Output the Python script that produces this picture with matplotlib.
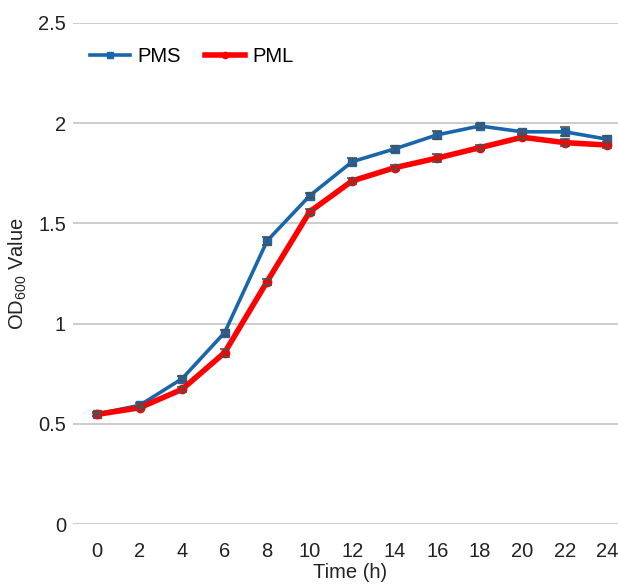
import matplotlib
matplotlib.use("Agg")
import matplotlib.pyplot as plt
from matplotlib.lines import Line2D

plt.rcParams['font.family'] = ['Liberation Sans', 'DejaVu Sans']

time_h = [0, 2, 4, 6, 8, 10, 12, 14, 16, 18, 20, 22, 24]
pms = [0.549, 0.592, 0.725, 0.955, 1.413, 1.638, 1.808, 1.872, 1.942, 1.986, 1.957, 1.957, 1.920]
pms_err = [0.008, 0.010, 0.012, 0.015, 0.020, 0.012, 0.018, 0.016, 0.020, 0.012, 0.010, 0.022, 0.015]
pml = [0.547, 0.580, 0.672, 0.855, 1.210, 1.558, 1.712, 1.778, 1.826, 1.878, 1.930, 1.903, 1.891]
pml_err = [0.008, 0.010, 0.012, 0.020, 0.015, 0.015, 0.015, 0.012, 0.018, 0.012, 0.010, 0.018, 0.015]

yticks = [0, 0.5, 1, 1.5, 2, 2.5]
ytick_labels = ['0', '0.5', '1', '1.5', '2', '2.5']

fig = plt.figure(figsize=(6.18, 5.84), dpi=100)
ax = fig.add_axes([73/618, 1 - 524/584, (618 - 73)/618, (524 - 23)/584])

blue = '#1966ad'
red = '#ff0000'
fs = 14.5

ax.plot(time_h, pms, color=blue, lw=2.6, marker='s', ms=6, zorder=3)
ax.plot(time_h, pml, color=red, lw=4.0, marker='o', ms=6, zorder=4)
ax.errorbar(time_h, pms, yerr=pms_err, fmt='none', ecolor='#505050',
            elinewidth=1.0, capsize=3.5, capthick=1.2, zorder=5)
ax.errorbar(time_h, pml, yerr=pml_err, fmt='none', ecolor='#505050',
            elinewidth=1.0, capsize=3.5, capthick=1.2, zorder=5)

ax.set_ylim(0, 2.5)
ax.set_xlim(-1.13, 24.5)
ax.set_yticks(yticks)
ax.set_yticklabels(ytick_labels)
ax.set_xticks(time_h)
ax.yaxis.grid(True, color='#c8c8c8', lw=1.3)
ax.set_axisbelow(True)
for s in ax.spines.values():
    s.set_visible(False)
ax.tick_params(axis='both', length=0, labelsize=fs, colors='#222222')
ax.tick_params(axis='x', pad=13)
ax.tick_params(axis='y', pad=5)

ax.set_xlabel('Time (h)', fontsize=fs, color='#222222')
ax.xaxis.set_label_coords((350 - 73)/545, -(563 - 524)/501)
ax.set_ylabel('OD$_{\\mathregular{600}}$ Value', fontsize=fs, color='#222222')
ax.yaxis.set_label_coords(-(73 - 29)/545, 0.5)

handles = [Line2D([], [], color=blue, lw=2.6, marker='s', ms=4.5),
           Line2D([], [], color=red, lw=4.0, marker='o', ms=4.5)]
ax.legend(handles, ['PMS', 'PML'], loc='center left', bbox_to_anchor=((90 - 73)/545, 1 - (57 - 23)/501), ncol=2,
          frameon=False, fontsize=fs, handlelength=2.0, columnspacing=1.2, handletextpad=0.35,
          borderaxespad=0.0, borderpad=0.0)

fig.savefig('out.png', dpi=100)
